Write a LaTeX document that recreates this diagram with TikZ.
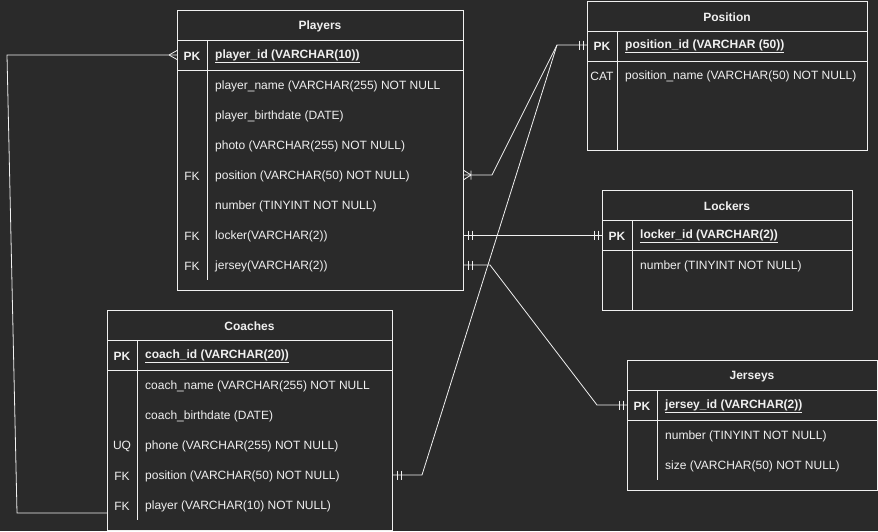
\documentclass[tikz,border=0pt]{standalone}
\usepackage{fontspec}
\setmainfont{Liberation Sans}
\usepackage{tikz}
\definecolor{bg}{HTML}{2A2A2A}
\definecolor{fg}{HTML}{F0F0F0}

\begin{document}
\begin{tikzpicture}[x=1pt,y=-1pt,font=\fontsize{12}{14}\selectfont,
 frame/.style={draw=fg,line width=1pt},
 tbl/.style={frame,rectangle,anchor=north west,inner sep=0pt},
 title/.style={text=fg,yshift=-1.5pt,font=\fontsize{12}{14}\selectfont\bfseries},
 fld/.style={text=fg,anchor=west,inner sep=0pt,yshift=-1.5pt},
 keycol/.style={text=fg,inner sep=0pt,yshift=-1.5pt},
 rel/.style={draw=fg,line width=0.8pt},
 mandone/.pic={\draw[rel] (-4,-4.5) -- (-4,4.5) (-8,-4.5) -- (-8,4.5);},
 crowsfoot/.pic={\draw[rel] (-8,0) -- (0,-4.5) (-8,0) -- (0,4.5);},
 onemany/.pic={\draw[rel] (-7,0) -- (0,-4.5) (-7,0) -- (0,4.5) (-7,-4.5) -- (-7,4.5);}]
 \fill[bg] (0,0) rectangle (878,531);
 \useasboundingbox (0,0) rectangle (878,531);
 % tables
 \foreach \n/\t/\x/\y/\w/\h/\r in {players/Players/177/10/286/280/8,
   position/Position/587/1/280/149/4, lockers/Lockers/602/190/250/120/3,
   jerseys/Jerseys/627/360/250/130/3, coaches/Coaches/107/310/285/220/6}
  {\node[tbl,minimum width=\w pt,minimum height=\h pt] (\n) at (\x,\y) {};
   \node[title] (\n-t) at (\x+\w/2,\y+15) {\t};
   \draw[frame] (\x,\y+30) -- ++(\w,0) (\x,\y+60) -- ++(\w,0);
   \draw[frame] (\x+30,\y+30) -- ++(0,30*\r);}
 % rows
 \foreach \k/\f [count=\i from 0] in {{\textbf{PK}}/{\textbf{\underline{player\_id (VARCHAR(10))}}},
   /player\_name (VARCHAR(255) NOT NULL, /player\_birthdate (DATE),
   /photo (VARCHAR(255) NOT NULL), FK/position (VARCHAR(50) NOT NULL),
   /number (TINYINT NOT NULL), FK/locker(VARCHAR(2)), FK/jersey(VARCHAR(2))}
  {\node[keycol] (players-k\i) at (192,55+30*\i) {\k};
   \node[fld] (players-\i) at (215,55+30*\i) {\f};}
 \foreach \k/\f [count=\i from 0] in {{\textbf{PK}}/{\textbf{\underline{position\_id (VARCHAR (50))}}},
   CAT/position\_name (VARCHAR(50) NOT NULL)}
  {\node[keycol] (position-k\i) at (602,45+30*\i) {\k};
   \node[fld] (position-\i) at (625,45+30*\i) {\f};}
 \foreach \k/\f [count=\i from 0] in {{\textbf{PK}}/{\textbf{\underline{locker\_id (VARCHAR(2))}}},
   /number (TINYINT NOT NULL)}
  {\node[keycol] (lockers-k\i) at (617,235+30*\i) {\k};
   \node[fld] (lockers-\i) at (640,235+30*\i) {\f};}
 \foreach \k/\f [count=\i from 0] in {{\textbf{PK}}/{\textbf{\underline{jersey\_id (VARCHAR(2))}}},
   /number (TINYINT NOT NULL), /size (VARCHAR(50) NOT NULL)}
  {\node[keycol] (jerseys-k\i) at (642,405+30*\i) {\k};
   \node[fld] (jerseys-\i) at (665,405+30*\i) {\f};}
 \foreach \k/\f [count=\i from 0] in {{\textbf{PK}}/{\textbf{\underline{coach\_id (VARCHAR(20))}}},
   /coach\_name (VARCHAR(255) NOT NULL, /coach\_birthdate (DATE),
   UQ/phone (VARCHAR(255) NOT NULL), FK/position (VARCHAR(50) NOT NULL),
   FK/player (VARCHAR(10) NOT NULL)}
  {\node[keycol] (coaches-k\i) at (122,355+30*\i) {\k};
   \node[fld] (coaches-\i) at (145,355+30*\i) {\f};}
 % relations
 \coordinate (lp1) at (17,513);
 \coordinate (lp2) at (7,55);
 \draw[rel] (coaches.west |- lp1) -- (lp1) -- (lp2) -- (players.west |- lp2);
 \pic at (players.west |- lp2) {crowsfoot};
 \coordinate (ps1) at (492,175);
 \coordinate (ps2) at (557,45);
 \coordinate (ps3) at (422,475);
 \draw[rel] (players.east |- ps1) -- (ps1) -- (ps2) -- (position.west |- ps2);
 \draw[rel] (coaches.east |- ps3) -- (ps3) -- (ps2);
 \pic[xscale=-1] at (players.east |- ps1) {onemany};
 \pic at (position.west |- ps2) {mandone};
 \pic[xscale=-1] at (coaches.east |- ps3) {mandone};
 \coordinate (lk1) at (530,235);
 \draw[rel] (players.east |- lk1) -- (lockers.west |- lk1);
 \pic[xscale=-1] at (players.east |- lk1) {mandone};
 \pic at (lockers.west |- lk1) {mandone};
 \coordinate (js1) at (490,265);
 \coordinate (js2) at (597,405);
 \draw[rel] (players.east |- js1) -- (js1) -- (js2) -- (jerseys.west |- js2);
 \pic[xscale=-1] at (players.east |- js1) {mandone};
 \pic at (jerseys.west |- js2) {mandone};
\end{tikzpicture}
\end{document}
